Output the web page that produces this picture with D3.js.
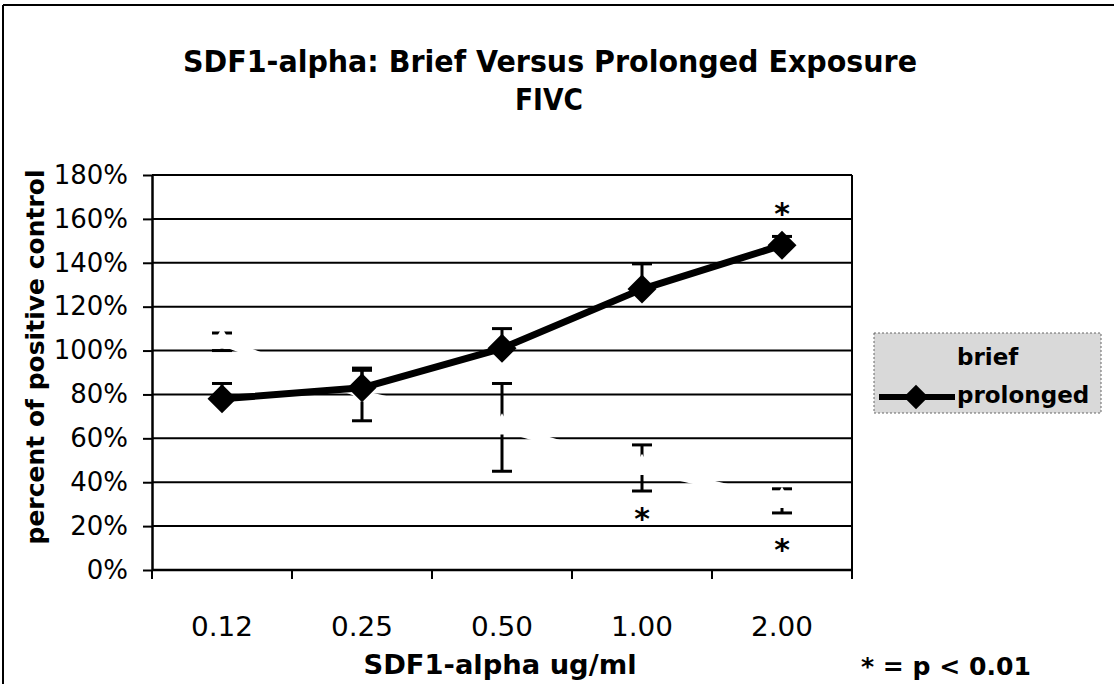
<!DOCTYPE html>
<html><head><meta charset="utf-8">
<script src="https://cdn.jsdelivr.net/npm/d3@7"></script>
<style>
body{margin:0;background:#fff}
svg{display:block}
text{font-family:"DejaVu Sans",Verdana,sans-serif;fill:#000}
</style>
</head><body><svg id="c" width="1114" height="684"></svg>
<script>
// ---- data ----
const categories = ["0.12","0.25","0.50","1.00","2.00"];
const briefValues = [104, 80, 65, 46.5, 31.5];
const briefErrors = [4, 12, 20, 10.5, 5.5];
const prolongedValues = [78, 83, 101, 128, 148];
const prolongedErrors = [7, 8, 9, 11.5, 4];
const yTickValues = [0,20,40,60,80,100,120,140,160,180];
const seriesNames = ["brief","prolonged"];
const sigCategories = ["2.00","1.00","2.00"];
const sigLevels = [165, 26, 12];
const titleLines = ["SDF1-alpha: Brief Versus Prolonged Exposure","FIVC"];
const xTitle = "SDF1-alpha ug/ml";
const yTitle = "percent of positive control";
const noteText = "* = p < 0.01";

// ---- layout ----
const svg = d3.select("#c");
const L = 152, R = 852, T = 175, B = 570;
const x = d3.scaleBand().domain(categories).range([L, R]).padding(0);
const cx = c => x(c) + x.bandwidth()/2;
const y = d3.scaleLinear().domain([0,180]).range([B, T]);

// outer frame
svg.append("line").attr("x1",3).attr("x2",1114).attr("y1",5).attr("y2",5).attr("stroke","#000").attr("stroke-width",2);
svg.append("line").attr("x1",3).attr("x2",3).attr("y1",5).attr("y2",684).attr("stroke","#000").attr("stroke-width",2);

// title
svg.append("text").attr("x",550).attr("y",72).attr("text-anchor","middle")
  .attr("font-weight","bold").attr("font-size",31)
  .attr("textLength",734).attr("lengthAdjust","spacingAndGlyphs").text(titleLines[0]);
svg.append("text").attr("x",549).attr("y",110).attr("text-anchor","middle")
  .attr("font-weight","bold").attr("font-size",31)
  .attr("textLength",68).attr("lengthAdjust","spacingAndGlyphs").text(titleLines[1]);

// gridlines
const g = svg.append("g");
g.selectAll("line.grid").data(yTickValues.filter(d=>d>0)).join("line")
  .attr("x1",L).attr("x2",R).attr("y1",d=>y(d)).attr("y2",d=>y(d))
  .attr("stroke","#000").attr("stroke-width",2);
g.append("line").attr("x1",R).attr("x2",R).attr("y1",T).attr("y2",B).attr("stroke","#000").attr("stroke-width",2);

// y axis
const yAxis = d3.axisLeft(y).tickValues(yTickValues).tickFormat(d=>d+"%").tickSize(9).tickSizeOuter(0).tickPadding(15);
const ya = svg.append("g").attr("transform",`translate(${L},0)`).call(yAxis);
ya.select(".domain").attr("stroke","#000").attr("stroke-width",2.5);
ya.selectAll(".tick line").attr("stroke","#000").attr("stroke-width",2);
ya.selectAll(".tick text").attr("font-size",26).attr("font-family","DejaVu Sans").attr("fill","#000");

// x axis: ticks at band edges, labels at centers
const xa = svg.append("g");
xa.append("line").attr("x1",L).attr("x2",R).attr("y1",B).attr("y2",B).attr("stroke","#000").attr("stroke-width",2.5);
const edges = categories.map(c=>x(c)).concat([x(categories[categories.length-1])+x.bandwidth()]);
xa.selectAll("line.t").data(edges).join("line").attr("class","t")
  .attr("x1",d=>d).attr("x2",d=>d).attr("y1",B).attr("y2",B+9).attr("stroke","#000").attr("stroke-width",2);
xa.selectAll("text").data(categories).join("text")
  .attr("x",d=>cx(d)).attr("y",636).attr("text-anchor","middle").attr("font-size",26)
  .attr("textLength",62).attr("lengthAdjust","spacingAndGlyphs").text(d=>d);

// axis titles
svg.append("text").attr("transform","translate(44,357) rotate(-90)").attr("text-anchor","middle")
  .attr("font-weight","bold").attr("font-size",25).attr("textLength",375).attr("lengthAdjust","spacingAndGlyphs").text(yTitle);
svg.append("text").attr("x",500).attr("y",674).attr("text-anchor","middle")
  .attr("font-weight","bold").attr("font-size",26).attr("textLength",273).attr("lengthAdjust","spacingAndGlyphs").text(xTitle);
svg.append("text").attr("x",861).attr("y",675)
  .attr("font-weight","bold").attr("font-size",24).attr("textLength",170).attr("lengthAdjust","spacingAndGlyphs").text(noteText);

// ---- brief series (white, with black error bars) ----
const brief = categories.map((c,i)=>({c, v:briefValues[i], e:briefErrors[i]}));
const prol = categories.map((c,i)=>({c, v:prolongedValues[i], e:prolongedErrors[i]}));
const cap = 10;
const be = svg.append("g");
brief.forEach(d=>{
  const X = cx(d.c);
  be.append("line").attr("x1",X).attr("x2",X).attr("y1",y(d.v+d.e)).attr("y2",y(d.v-d.e)).attr("stroke","#000").attr("stroke-width",3);
  be.append("line").attr("x1",X-cap).attr("x2",X+cap).attr("y1",y(d.v+d.e)).attr("y2",y(d.v+d.e)).attr("stroke","#000").attr("stroke-width",3);
  be.append("line").attr("x1",X-cap).attr("x2",X+cap).attr("y1",y(d.v-d.e)).attr("y2",y(d.v-d.e)).attr("stroke","#000").attr("stroke-width",3);
});
const line = d3.line().x(d=>cx(d.c)).y(d=>y(d.v));
svg.append("path").datum(brief).attr("d",line).attr("fill","none").attr("stroke","#fff").attr("stroke-width",8);
svg.selectAll("path.bm").data(brief).join("path").attr("class","bm")
  .attr("d",d3.symbol(d3.symbolTriangle,260)())
  .attr("transform",d=>`translate(${cx(d.c)},${y(d.v)})`).attr("fill","#fff");

// ---- prolonged series ----
prol.forEach(d=>{
  const X = cx(d.c);
  svg.append("line").attr("x1",X).attr("x2",X).attr("y1",y(d.v+d.e)).attr("y2",y(d.v)).attr("stroke","#000").attr("stroke-width",3);
  svg.append("line").attr("x1",X-cap).attr("x2",X+cap).attr("y1",y(d.v+d.e)).attr("y2",y(d.v+d.e)).attr("stroke","#000").attr("stroke-width",3);
});
svg.append("path").datum(prol).attr("d",line).attr("fill","none").attr("stroke","#000").attr("stroke-width",7).attr("stroke-linejoin","round");
svg.selectAll("path.pm").data(prol).join("path").attr("class","pm")
  .attr("d",d3.symbol(d3.symbolSquare,420)())
  .attr("transform",d=>`translate(${cx(d.c)},${y(d.v)}) rotate(45)`).attr("fill","#000");

// significance asterisks
svg.selectAll("text.sig").data(sigCategories.map((c,i)=>({c, l:sigLevels[i]}))).join("text").attr("class","sig")
  .attr("x",d=>cx(d.c)).attr("y",d=>y(d.l)+16).attr("text-anchor","middle")
  .attr("font-weight","bold").attr("font-size",30).text("*");

// ---- legend ----
const lg = svg.append("g");
lg.append("rect").attr("x",874).attr("y",333).attr("width",227).attr("height",80)
  .attr("fill","#d9d9d9").attr("stroke","#666").attr("stroke-width",1).attr("stroke-dasharray","2,2");
lg.append("text").attr("x",957).attr("y",365).attr("font-weight","bold").attr("font-size",23).text(seriesNames[0]);
lg.append("line").attr("x1",879).attr("x2",955).attr("y1",397).attr("y2",397).attr("stroke","#000").attr("stroke-width",6);
lg.append("path").attr("d",d3.symbol(d3.symbolSquare,300)()).attr("transform","translate(916,397) rotate(45)").attr("fill","#000");
lg.append("text").attr("x",957).attr("y",403).attr("font-weight","bold").attr("font-size",23).text(seriesNames[1]);
</script>
</body></html>
